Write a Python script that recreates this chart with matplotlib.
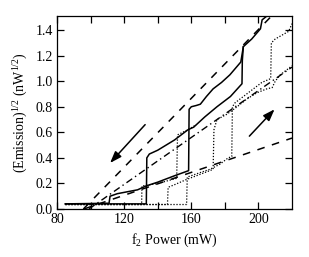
import matplotlib
matplotlib.use("Agg")
import matplotlib.pyplot as plt

plt.rcParams['font.family'] = ['Liberation Serif', 'DejaVu Serif']
plt.rcParams['mathtext.fontset'] = 'custom'
plt.rcParams['mathtext.rm'] = 'Liberation Serif'
plt.rcParams['mathtext.it'] = 'Liberation Serif:italic'
plt.rcParams['mathtext.bf'] = 'Liberation Serif:bold'

# --- data (f2 power in mW, sqrt emission in nW^1/2) ---
solid1_x = [85, 111, 111.6, 116, 122, 128, 133, 140, 150, 158.4, 158.7, 160, 163, 165.4, 169, 173, 178, 183, 189.5, 191, 196, 201.2, 202.2, 206, 208]
solid1_y = [0.04, 0.045, 0.10, 0.12, 0.135, 0.15, 0.18, 0.21, 0.26, 0.30, 0.78, 0.80, 0.81, 0.82, 0.88, 0.94, 0.99, 1.05, 1.15, 1.27, 1.33, 1.41, 1.48, 1.52, 1.55]

solid2_x = [85, 133.2, 133.5, 135, 140, 145, 150, 158, 161.4, 168, 175.3, 183.3, 190.2, 190.4, 191]
solid2_y = [0.04, 0.04, 0.40, 0.43, 0.46, 0.50, 0.54, 0.62, 0.64, 0.72, 0.80, 0.88, 0.98, 1.16, 1.27]

dot0_x = [85, 130.4, 130.6, 140, 151.3, 151.8, 158, 163]
dot0_y = [0.035, 0.035, 0.18, 0.20, 0.24, 0.58, 0.62, 0.66]

dot1_x = [85, 145.8, 146.2, 150, 157, 165, 171, 173, 173.5, 175.3, 181, 187.3, 193, 199.2, 205, 208.2, 210, 213, 220]
dot1_y = [0.035, 0.035, 0.17, 0.19, 0.23, 0.27, 0.30, 0.31, 0.62, 0.70, 0.74, 0.80, 0.86, 0.91, 0.94, 0.95, 1.00, 1.05, 1.12]

dot2_x = [85, 157.2, 157.6, 162, 171, 177, 182, 184.1, 184.5, 186, 193, 202, 207.3, 207.7, 210, 214, 218, 220]
dot2_y = [0.035, 0.035, 0.25, 0.27, 0.31, 0.35, 0.40, 0.41, 0.80, 0.83, 0.90, 0.99, 1.02, 1.30, 1.33, 1.36, 1.39, 1.45]

dash_upper_x = [95.7, 207.1]
dash_upper_y = [0.0, 1.5]
dash_mid_x = [99, 220]
dash_mid_y = [0.0, 1.11]
dash_low_x = [96, 220]
dash_low_y = [0.0, 0.555]

arrow_down = ((132.5, 0.66), (111.6, 0.36))
arrow_up = ((194.6, 0.57), (209.6, 0.78))

x_major = [80, 120, 160, 200]
x_minor = [100, 140, 180]
y_ticks = [0.0, 0.2, 0.4, 0.6, 0.8, 1.0, 1.2, 1.4]

fig = plt.figure(figsize=(3.09, 2.57), dpi=100)
ax = fig.add_axes([0.1845, 0.1868, 0.7605, 0.7509])

ax.plot(dash_upper_x, dash_upper_y, color='black', lw=1.1, dashes=(5, 5))
ax.plot(dash_mid_x, dash_mid_y, color='black', lw=1.0, dashes=(5, 2.5, 1, 2.5))
ax.plot(dash_low_x, dash_low_y, color='black', lw=1.1, dashes=(5, 5))

for xs, ys in [(solid1_x, solid1_y), (solid2_x, solid2_y)]:
    ax.plot(xs, ys, color='black', lw=1.1, solid_joinstyle='round')
for xs, ys in [(dot0_x, dot0_y), (dot1_x, dot1_y), (dot2_x, dot2_y)]:
    ax.plot(xs, ys, color='black', lw=0.9, dashes=(1, 1.4))

for (tail, tip) in [arrow_down, arrow_up]:
    ax.annotate('', xy=tip, xytext=tail,
                arrowprops=dict(arrowstyle='-|>,head_length=0.7,head_width=0.25',
                                color='black', lw=1.1, shrinkA=0, shrinkB=0))

ax.set_xlim(80, 220)
ax.set_ylim(0, 1.51)
ax.set_xticks(x_major)
ax.set_xticks(x_minor, minor=True)
ax.set_yticks(y_ticks)
ax.set_yticklabels([f"{v:.1f}" for v in y_ticks])
ax.tick_params(which='both', direction='in', top=True, right=True, length=5, width=0.9,
               labelsize=10, pad=3)
for s in ax.spines.values():
    s.set_linewidth(0.9)

ax.set_xlabel("f$_2$ Power (mW)", fontsize=10, labelpad=4)
ax.set_ylabel("(Emission)$^{1/2}$ (nW$^{1/2}$)", fontsize=10, labelpad=4)

fig.savefig("out.png", dpi=100)
